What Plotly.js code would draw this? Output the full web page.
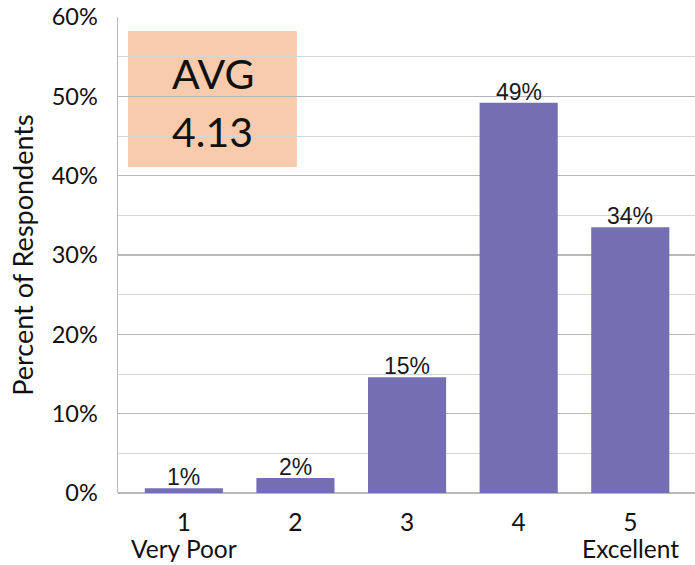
<!DOCTYPE html>
<html>
<head>
<meta charset="utf-8">
<script src="https://cdn.plot.ly/plotly-3.0.1.min.js"></script>
<style>html,body{margin:0;padding:0;background:#fff;}#chart{width:695px;height:565px;}</style>
</head>
<body>
<div id="chart"></div>
<script>
const ratings = [1, 2, 3, 4, 5];
const tickLabels = ["1", "2", "3", "4", "5"];
const scaleEnds = [{x: 1, text: "Very Poor"}, {x: 5, text: "Excellent"}];
const percents = [0.006, 0.019, 0.146, 0.492, 0.335];
const barLabels = ["1%", "2%", "15%", "49%", "34%"];
const avgLines = ["AVG", "4.13"];

const trace = {
  type: 'bar',
  x: ratings,
  y: percents,
  marker: {color: '#736FB2'},
  width: 0.7,
  hoverinfo: 'none'
};

function py(p) { return (493 - p) / 476; }

const annotations = [
  {xref: 'paper', yref: 'paper', x: 0.164, y: py(73), text: avgLines[0], showarrow: false,
   font: {size: 41, color: '#111'}, xanchor: 'center', yanchor: 'middle'},
  {xref: 'paper', yref: 'paper', x: 0.164, y: py(131), text: avgLines[1], showarrow: false,
   font: {size: 41, color: '#111'}, xanchor: 'center', yanchor: 'middle'}
];
scaleEnds.forEach(e => annotations.push({
  xref: 'x', yref: 'paper', x: e.x, y: py(548), text: e.text, showarrow: false,
  font: {size: 24.5, color: '#111'}, xanchor: 'center', yanchor: 'middle'
}));
ratings.forEach((r, i) => annotations.push({
  xref: 'x', yref: 'y', x: r, y: percents[i], text: barLabels[i], showarrow: false,
  font: {family: 'Liberation Sans, Arial, sans-serif', size: 23, color: '#1a1a1a'},
  xanchor: 'center', yanchor: 'bottom', yshift: -3, borderpad: 0
}));

const layout = {
  width: 695, height: 565,
  margin: {l: 118, r: 0, t: 17, b: 72},
  paper_bgcolor: '#fff', plot_bgcolor: '#fff',
  showlegend: false,
  font: {family: 'Lato, Carlito, Calibri, sans-serif', size: 22, color: '#111'},
  xaxis: {
    range: [0.41, 5.58],
    tickvals: ratings,
    ticktext: tickLabels,
    showgrid: false, zeroline: false,
    showline: false,
    ticks: 'outside', ticklen: 8, tickcolor: 'rgba(0,0,0,0)',
    tickfont: {size: 24.5, color: '#111'}
  },
  yaxis: {
    range: [0, 0.6],
    dtick: 0.1,
    tickformat: '.0%',
    showgrid: true, gridcolor: '#B8B8B8', gridwidth: 1.4,
    minor: {dtick: 0.05, showgrid: true, gridcolor: '#D6D6D6', gridwidth: 1},
    zeroline: true, zerolinecolor: '#B8B8B8', zerolinewidth: 1.5,
    showline: true, linecolor: '#B8B8B8', linewidth: 1.5,
    ticks: 'outside', ticklen: 14, tickcolor: 'rgba(0,0,0,0)',
    tickfont: {size: 23.5, color: '#111'},
    title: {text: 'Percent of Respondents', font: {size: 27, color: '#111'}, standoff: 10}
  },
  shapes: [{
    type: 'rect', xref: 'paper', yref: 'paper',
    x0: 0.0173, x1: 0.310, y0: py(167), y1: py(31),
    fillcolor: '#F8CBAD', line: {width: 0}, layer: 'below'
  }],
  annotations: annotations
};

Plotly.newPlot('chart', [trace], layout, {displayModeBar: false, staticPlot: true});
</script>
</body>
</html>
